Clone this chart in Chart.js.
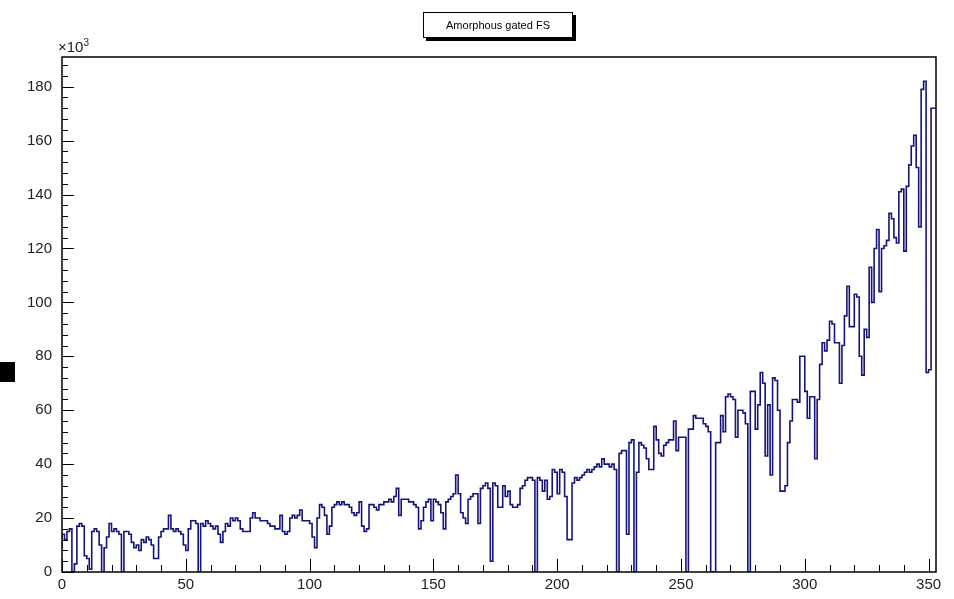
<!DOCTYPE html>
<html>
<head>
<meta charset="utf-8">
<script src="https://cdn.jsdelivr.net/npm/chart.js@4.4.0/dist/chart.umd.min.js"></script>
<style>
  body { margin: 0; background: #fff; }
  #wrap { position: relative; width: 954px; height: 599px; }
  #title {
    position: absolute; left: 423px; top: 12px; width: 148px; height: 24px;
    border: 1px solid #000; background: #fff; box-shadow: 3px 3px 0 #000;
    font: 11px "Liberation Sans", Arial, sans-serif; text-align: center; line-height: 24px; color: #000;
  }
  #expo { position: absolute; left: 58px; top: 37px; font: 15px "Liberation Sans", Arial, sans-serif; color: #222; }
  #expo sup { font-size: 10px; }
  #blk { position: absolute; left: 0; top: 362px; width: 15px; height: 20px; background: #000; }
</style>
</head>
<body>
<div id="wrap">
  <canvas id="hist" width="954" height="599"></canvas>
  <div id="title">Amorphous gated FS</div>
  <div id="expo">&times;10<sup>3</sup></div>
  <div id="blk"></div>
</div>
<script>
// bin contents in thousands, one bin per unit from 0 to 353
var counts = [
  9, 14, 12, 15, 16, 0, 3, 17, 18, 17,
  6, 5, 1, 15, 16, 15, 10, 0, 9, 13,
  18, 15, 16, 15, 14, 0, 15, 15, 14, 11,
  9, 10, 8, 12, 11, 13, 12, 10, 5, 5,
  13, 15, 16, 16, 21, 16, 15, 16, 15, 14,
  10, 8, 16, 19, 19, 18, 0, 18, 17, 19,
  18, 17, 16, 17, 14, 11, 15, 18, 17, 20,
  19, 20, 19, 16, 15, 15, 15, 20, 22, 20,
  20, 19, 19, 19, 18, 17, 17, 16, 16, 21,
  15, 14, 15, 20, 21, 20, 21, 23, 19, 19,
  19, 18, 13, 9, 20, 25, 24, 21, 14, 17,
  24, 25, 26, 25, 26, 25, 25, 24, 22, 21,
  22, 26, 17, 15, 16, 25, 25, 24, 23, 25,
  25, 26, 26, 27, 26, 28, 31, 21, 27, 27,
  27, 26, 26, 25, 24, 16, 19, 24, 26, 27,
  19, 27, 26, 25, 22, 16, 26, 27, 28, 29,
  36, 29, 22, 20, 18, 27, 28, 29, 29, 18,
  31, 32, 33, 31, 4, 33, 32, 24, 24, 32,
  28, 30, 25, 24, 24, 25, 31, 32, 34, 35,
  35, 34, 0, 35, 34, 30, 34, 27, 28, 38,
  37, 29, 38, 37, 28, 12, 12, 33, 35, 34,
  35, 36, 37, 38, 37, 38, 39, 40, 39, 42,
  40, 40, 39, 40, 38, 0, 44, 45, 45, 14,
  48, 49, 0, 37, 48, 47, 46, 42, 38, 38,
  54, 49, 44, 43, 47, 48, 49, 49, 56, 45,
  50, 50, 50, 0, 53, 53, 58, 57, 57, 57,
  55, 54, 52, 0, 0, 48, 48, 58, 52, 65,
  66, 65, 64, 50, 60, 60, 59, 55, 0, 67,
  67, 53, 62, 74, 70, 43, 62, 36, 72, 71,
  60, 30, 30, 32, 48, 56, 64, 64, 63, 80,
  80, 67, 57, 65, 65, 42, 64, 77, 85, 82,
  86, 93, 92, 85, 85, 70, 84, 95, 106, 91,
  91, 103, 102, 80, 73, 90, 87, 113, 100, 120,
  127, 104, 120, 121, 123, 133, 131, 124, 122, 141,
  142, 119, 143, 151, 158, 162, 150, 128, 179, 182,
  74, 75, 172
];
var xMin = 0, xMax = 353;
var yMin = 0, yMax = 191;
var xTicks = [0, 50, 100, 150, 200, 250, 300, 350];
var yTicks = [0, 20, 40, 60, 80, 100, 120, 140, 160, 180];

// histogram as a step line: each bin starts at its low edge
var points = counts.map(function (v, i) { return { x: xMin + i, y: v }; });
points.push({ x: xMin + counts.length, y: counts[counts.length - 1] });

// ROOT-like frame with inward ticks
var frameTicks = {
  id: 'frameTicks',
  afterDatasetsDraw: function (chart) {
    var ctx = chart.ctx, a = chart.chartArea, x = chart.scales.x, y = chart.scales.y;
    ctx.save();
    ctx.strokeStyle = '#000';
    ctx.lineWidth = 1;
    ctx.beginPath();
    for (var v = xMin; v <= xMax; v += 10) {
      var px = Math.round(x.getPixelForValue(v)) + 0.5;
      var len = v % 50 === 0 ? 13 : 7;
      ctx.moveTo(px, a.bottom);
      ctx.lineTo(px, a.bottom - len);
    }
    for (var w = yMin; w <= yMax; w += 4) {
      var py = Math.round(y.getPixelForValue(w)) + 0.5;
      var l2 = w % 20 === 0 ? 12 : 6;
      ctx.moveTo(a.left, py);
      ctx.lineTo(a.left + l2, py);
    }
    ctx.stroke();
    ctx.lineWidth = 1.5;
    ctx.strokeRect(a.left, a.top, a.right - a.left, a.bottom - a.top);
    ctx.restore();
  }
};

var tickFont = { family: 'Liberation Sans', size: 15 };

new Chart(document.getElementById('hist'), {
  type: 'line',
  data: {
    datasets: [{
      data: points,
      stepped: 'after',
      borderColor: '#14147a',
      borderWidth: 1.6,
      pointRadius: 0,
      fill: false
    }]
  },
  options: {
    responsive: false,
    animation: false,
    layout: { padding: { left: 0, top: 57, right: 18, bottom: 0 } },
    plugins: { legend: { display: false }, tooltip: { enabled: false } },
    scales: {
      x: {
        type: 'linear', min: xMin, max: xMax,
        grid: { display: false, drawTicks: false },
        border: { display: false },
        afterBuildTicks: function (s) { s.ticks = xTicks.map(function (v) { return { value: v }; }); },
        afterFit: function (s) { s.height = 27; },
        ticks: { padding: 4, maxRotation: 0, autoSkip: false, font: tickFont, color: '#222' }
      },
      y: {
        type: 'linear', min: yMin, max: yMax,
        grid: { display: false, drawTicks: false },
        border: { display: false },
        afterBuildTicks: function (s) { s.ticks = yTicks.map(function (v) { return { value: v }; }); },
        afterFit: function (s) { s.width = 62; },
        ticks: { padding: 10, autoSkip: false, font: tickFont, color: '#222' }
      }
    }
  },
  plugins: [frameTicks]
});
</script>
</body>
</html>
